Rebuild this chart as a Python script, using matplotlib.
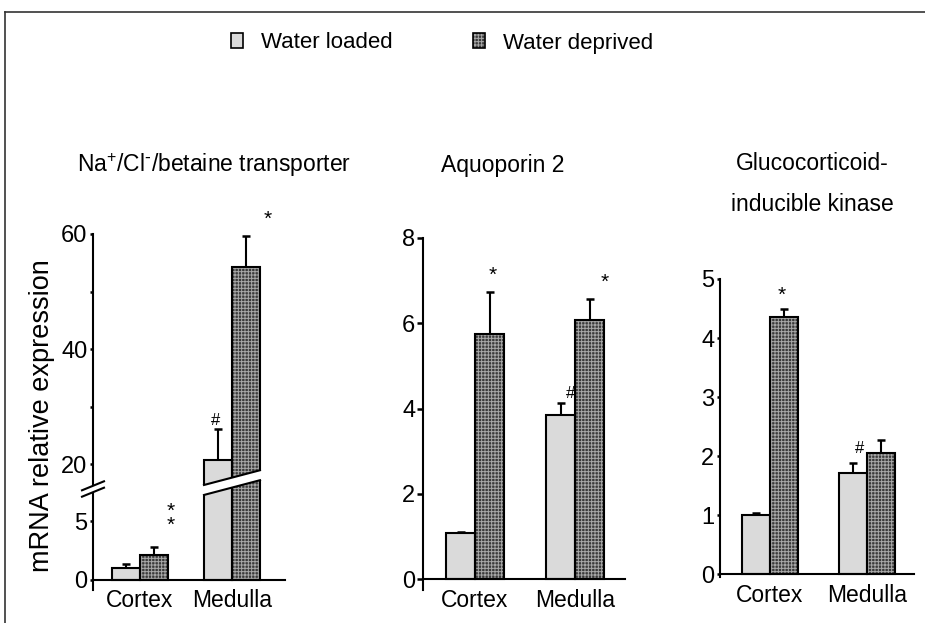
import numpy as np
import matplotlib
matplotlib.use("Agg")
import matplotlib.pyplot as plt
from matplotlib.patches import Patch, Polygon
from matplotlib.lines import Line2D
from matplotlib.legend_handler import HandlerTuple
from matplotlib import transforms

plt.rcParams['font.family'] = ['Liberation Sans', 'DejaVu Sans']
plt.rcParams['hatch.linewidth'] = 0.7
plt.rcParams['mathtext.default'] = 'regular'

# ---- data ----
groups = ['Cortex', 'Medulla']

bgt_loaded       = [1.0, 20.7]
bgt_loaded_err   = [0.3, 5.4]
bgt_deprived     = [2.07, 54.3]
bgt_deprived_err = [0.7, 5.3]

aqp2_loaded       = [1.08, 3.84]
aqp2_loaded_err   = [0.02, 0.28]
aqp2_deprived     = [5.74, 6.07]
aqp2_deprived_err = [1.0, 0.49]

sgk_loaded       = [1.0, 1.71]
sgk_loaded_err   = [0.03, 0.17]
sgk_deprived     = [4.36, 2.05]
sgk_deprived_err = [0.13, 0.22]

titles = [r'Na$^{+}$/Cl$^{\text{-}}$/betaine transporter', 'Aquoporin 2',
          'Glucocorticoid-\ninducible kinase']

LIGHT = '#dadada'
DARK = '#3a3a3a'
DOTS = '#a8a8a8'
W, H = 925, 623


def px_rect(left, right, top, bottom):
	return [left / W, 1 - bottom / H, (right - left) / W, (bottom - top) / H]


# broken scale for the first panel (pixels above baseline)
def fwd(y):
	y = np.asarray(y, float)
	return np.where(y <= 7, 11.6 * y,
	       np.where(y >= 16.5, 115 + (y - 20) * 5.75,
	                81.2 + (y - 7) * (94.875 - 81.2) / 9.5))


def inv(f):
	f = np.asarray(f, float)
	return np.where(f <= 81.2, f / 11.6,
	       np.where(f >= 94.875, 20 + (f - 115) / 5.75,
	                7 + (f - 81.2) * 9.5 / (94.875 - 81.2)))


def draw_panel(ax, loaded, loaded_err, deprived, deprived_err, width):
	x = np.arange(len(groups))
	ax.bar(x - width / 2, loaded, width, color=LIGHT, edgecolor='k', linewidth=1.5, zorder=2)
	ax.bar(x + width / 2, deprived, width, color=DARK, edgecolor=DOTS, hatch='+++++',
	       linewidth=0, zorder=2)
	ax.bar(x + width / 2, deprived, width, fill=False, edgecolor='k', linewidth=1.5, zorder=3)
	zeros = np.zeros(len(x))
	ax.errorbar(x - width / 2, loaded, yerr=[zeros, loaded_err], fmt='none', ecolor='k',
	            elinewidth=1.5, capsize=3.2, capthick=1.8, zorder=1)
	ax.errorbar(x + width / 2, deprived, yerr=[zeros, deprived_err], fmt='none', ecolor='k',
	            elinewidth=1.5, capsize=3.2, capthick=1.8, zorder=1)

	for s in ['top', 'right']:
		ax.spines[s].set_visible(False)
	ax.spines['left'].set_linewidth(1.5)
	ax.spines['bottom'].set_linewidth(1.5)
	ax.spines['bottom'].set_position(('data', 0))
	ax.set_xticks(x)
	ax.set_xticklabels(groups, fontsize=16.5)
	ax.tick_params(axis='x', length=0, pad=7)
	ax.tick_params(axis='y', which='both', direction='out', length=2.5, width=1.8,
	               labelsize=17, pad=1.5)
	ax.patch.set_visible(False)
	return x


def mark(ax, x, top, txt, dx, dy, **kw):
	# dx, dy: offset of the glyph centre from the error bar top, in pixels
	size = 15 if '*' in txt else 12
	lift = 12 if '*' in txt else 5.7
	ax.annotate(txt, xy=(x, top), xytext=(dx * 0.72, (dy - lift) * 0.72),
	            textcoords='offset points', ha='center', va='baseline', fontsize=size, **kw)


fig = plt.figure(figsize=(W / 100, H / 100), dpi=100)

# ---- panel 1 : betaine transporter (broken axis) ----
ax1 = fig.add_axes(px_rect(93, 285, 234, 590))
ax1.set_yscale('function', functions=(fwd, inv))
w1 = 28 / 92
x1 = draw_panel(ax1, bgt_loaded, bgt_loaded_err, bgt_deprived, bgt_deprived_err, w1)
ax1.set_xlim((93 - 140) / 92, (285 - 140) / 92)
ax1.set_ylim(-0.9, 60)
ax1.set_yticks([0, 5, 20, 40, 60])
ax1.set_yticks([30, 50], minor=True)
ax1.set_yticklabels(['0', '5', '20', '40', '60'])
ax1.yaxis.set_minor_formatter(plt.NullFormatter())

top1 = np.array(bgt_deprived) + np.array(bgt_deprived_err)
topl1 = np.array(bgt_loaded) + np.array(bgt_loaded_err)
mark(ax1, x1[0] + w1 / 2, top1[0], '*\n*', 16.5, 29, linespacing=0.62)
mark(ax1, x1[1] - w1 / 2, topl1[1], '#', -2.5, 10)
mark(ax1, x1[1] + w1 / 2, top1[1], '*', 22, 23)

# white slanted cut through the medulla bars
blend = transforms.blended_transform_factory(ax1.transData, ax1.transAxes)
xl, xr = x1[1] - w1, x1[1] + w1
slope = 15 / 57 / 356 * 92  # axes-y per data-x
yb0, yt0 = 0.267, 0.295
cut = Polygon([(xl - 0.04, yb0 - 0.04 * slope), (xr + 0.04, yb0 + (2 * w1 + 0.04) * slope),
               (xr + 0.04, yt0 + (2 * w1 + 0.04) * slope), (xl - 0.04, yt0 - 0.04 * slope)],
              closed=True, facecolor='white', edgecolor='none', transform=blend, zorder=4)
ax1.add_patch(cut)
for y0 in (yb0, yt0):
	ax1.add_line(Line2D([xl, xr], [y0, y0 + 2 * w1 * slope], color='k', lw=1.5,
	                    transform=blend, zorder=5))

# break marks on the y axis
bx, by = 11 / 192, 4.5 / 356
yc = (590 - 489) / 356
gap = 3.2 / 356
brk = Polygon([(-bx, yc - gap - by), (bx, yc - gap + by), (bx, yc + gap + by), (-bx, yc + gap - by)],
              closed=True, facecolor='white', edgecolor='none', transform=ax1.transAxes,
              clip_on=False, zorder=6)
ax1.add_patch(brk)
for s in (-gap, gap):
	ax1.add_line(Line2D([-bx, bx], [yc + s - by, yc + s + by], color='k', lw=1.5,
	                    transform=ax1.transAxes, clip_on=False, zorder=7))

# ---- panel 2 : aquaporin 2 ----
ax2 = fig.add_axes(px_rect(423, 625, 238, 590))
w2 = 29 / 100
x2 = draw_panel(ax2, aqp2_loaded, aqp2_loaded_err, aqp2_deprived, aqp2_deprived_err, w2)
ax2.set_xlim((423 - 475) / 100, (625 - 475) / 100)
ax2.set_ylim(-0.258, 8)
ax2.set_yticks([0, 2, 4, 6, 8])
ax2.tick_params(axis='y', length=4)

top2 = np.array(aqp2_deprived) + np.array(aqp2_deprived_err)
topl2 = np.array(aqp2_loaded) + np.array(aqp2_loaded_err)
mark(ax2, x2[0] + w2 / 2, top2[0], '*', 3, 23)
mark(ax2, x2[1] - w2 / 2, topl2[1], '#', 10.5, 11)
mark(ax2, x2[1] + w2 / 2, top2[1], '*', 15.5, 24)

# ---- panel 3 : SGK ----
ax3 = fig.add_axes(px_rect(720, 914, 279, 577))
w3 = 28 / 97
x3 = draw_panel(ax3, sgk_loaded, sgk_loaded_err, sgk_deprived, sgk_deprived_err, w3)
ax3.set_xlim((720 - 770) / 97, (914 - 770) / 97)
ax3.set_ylim(-0.05, 5)
ax3.set_yticks([0, 1, 2, 3, 4, 5])

top3 = np.array(sgk_deprived) + np.array(sgk_deprived_err)
topl3 = np.array(sgk_loaded) + np.array(sgk_loaded_err)
mark(ax3, x3[0] + w3 / 2, top3[0], '*', -2.5, 20)
mark(ax3, x3[1] - w3 / 2, topl3[1], '#', 7, 16)

# ---- titles, labels, legend ----
fig.text(214 / W, 1 - 172 / H, titles[0], ha='center', va='baseline', fontsize=16.5)
fig.text(503 / W, 1 - 172 / H, titles[1], ha='center', va='baseline', fontsize=16.5)
t1, t2 = titles[2].split('\n')
fig.text(812 / W, 1 - 170 / H, t1, ha='center', va='baseline', fontsize=16.5)
fig.text(812 / W, 1 - 211 / H, t2, ha='center', va='baseline', fontsize=16.5)

fig.text(42 / W, 1 - 416 / H, 'mRNA relative expression', rotation=90,
         ha='center', va='center', fontsize=19.5)

h_loaded = Patch(facecolor=LIGHT, edgecolor='k', linewidth=1.2)
h_dep = (Patch(facecolor=DARK, edgecolor=DOTS, hatch='+++++', linewidth=0),
         Patch(fill=False, edgecolor='k', linewidth=1.2))
fig.legend([h_loaded, h_dep], ['Water loaded', 'Water deprived'], ncol=2,
           loc='center left', bbox_to_anchor=(231 / W, 1 - 43 / H), frameon=False,
           fontsize=16, handlelength=0.55, handleheight=0.65, handletextpad=0.8,
           columnspacing=3.6, borderpad=0, borderaxespad=0,
           handler_map={tuple: HandlerTuple(ndivide=1, pad=0)})

# outer frame
fig.add_artist(Line2D([5 / W, 1], [1 - 12 / H, 1 - 12 / H], color='#333333', lw=1.2,
                      transform=fig.transFigure))
fig.add_artist(Line2D([5 / W, 5 / W], [0, 1 - 12 / H], color='#333333', lw=1.2,
                      transform=fig.transFigure))

fig.savefig('out.png', dpi=100)
